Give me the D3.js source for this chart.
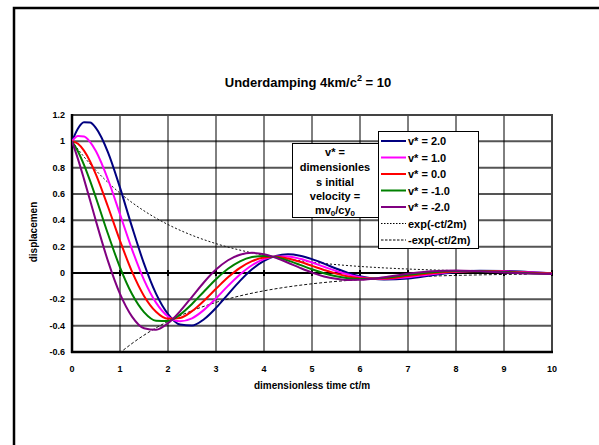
<!DOCTYPE html>
<html lang="en">
  <head>
    <meta charset="UTF-8">
    <title>Underdamping</title>
    <script src="https://d3js.org/d3.v7.min.js"></script>
    <style>
      body { margin: 0; background: white; overflow: hidden; }
      svg { display: block; }
      text { font-family: "Liberation Sans", Arial, sans-serif; font-weight: bold; fill: #000; }
    </style>
  </head>
  <body>
    <script>
      // dimensionless time ct/m
      const tau = [0, 0.125, 0.25, 0.375, 0.5, 0.75, 1, 1.25, 1.5, 1.75, 2, 2.25, 2.5, 2.75, 3, 3.25, 3.5, 3.75,
                   4, 4.25, 4.5, 4.75, 5, 5.25, 5.5, 5.75, 6, 6.5, 7, 7.5, 8, 8.5, 9, 9.5, 10];

      const vPlus2 = [1, 1.098, 1.144, 1.143, 1.101, 0.917, 0.648, 0.350, 0.071, -0.157, -0.312, -0.391, -0.399, -0.351, -0.265, -0.162, -0.060, 0.028,
                      0.092, 0.130, 0.142, 0.131, 0.105, 0.071, 0.034, 0.001, -0.025, -0.049, -0.041, -0.017, 0.006, 0.017, 0.016, 0.008, -0.001];
      const vPlus1 = [1, 1.040, 1.037, 0.996, 0.924, 0.710, 0.446, 0.180, -0.052, -0.225, -0.330, -0.366, -0.344, -0.280, -0.193, -0.098, -0.011, 0.059,
                      0.105, 0.126, 0.126, 0.108, 0.080, 0.047, 0.015, -0.012, -0.032, -0.045, -0.032, -0.009, 0.009, 0.016, 0.013, 0.005, -0.002];
      const vZero  = [1, 0.981, 0.929, 0.849, 0.747, 0.503, 0.245, 0.010, -0.174, -0.294, -0.347, -0.341, -0.290, -0.210, -0.120, -0.033, 0.039, 0.090,
                      0.117, 0.123, 0.110, 0.085, 0.054, 0.023, -0.005, -0.026, -0.039, -0.041, -0.023, -0.002, 0.012, 0.015, 0.010, 0.002, -0.004];
      const vMinus1 = [1, 0.923, 0.821, 0.701, 0.570, 0.296, 0.043, -0.160, -0.297, -0.362, -0.364, -0.316, -0.235, -0.140, -0.047, 0.032, 0.089, 0.121,
                       0.130, 0.119, 0.094, 0.062, 0.028, -0.002, -0.025, -0.039, -0.045, -0.037, -0.014, 0.006, 0.015, 0.014, 0.007, -0.001, -0.005];
      const vMinus2 = [1, 0.865, 0.713, 0.554, 0.393, 0.090, -0.159, -0.331, -0.419, -0.431, -0.382, -0.291, -0.181, -0.070, 0.026, 0.097, 0.139, 0.153,
                       0.143, 0.115, 0.078, 0.039, 0.003, -0.026, -0.044, -0.053, -0.052, -0.033, -0.006, 0.014, 0.019, 0.013, 0.004, -0.004, -0.007];

      // envelope exp(-ct/2m)
      const envTau = [0, 0.25, 0.5, 0.75, 1, 1.25, 1.5, 1.75, 2, 2.5, 3, 3.5, 4, 4.5, 5, 5.5, 6, 6.5, 7, 7.5, 8, 8.5, 9, 9.5];
      const envUpper = [1, 0.8825, 0.7788, 0.6873, 0.6065, 0.5353, 0.4724, 0.4169, 0.3679, 0.2865, 0.2231, 0.1738, 0.1353, 0.1054,
                        0.0821, 0.0639, 0.0498, 0.0388, 0.0302, 0.0235, 0.0183, 0.0143, 0.0111, 0.0087];
      const envLower = envUpper.map(v => -v);

      const seriesNames = ["v* = 2.0", "v* = 1.0", "v* = 0.0", "v* = -1.0", "v* = -2.0"];
      const seriesColors = ["#000080", "#ff00ff", "#ff0000", "#008000", "#800080"];
      const xTicks = [0, 1, 2, 3, 4, 5, 6, 7, 8, 9, 10];
      const yTicks = [-0.6, -0.4, -0.2, 0, 0.2, 0.4, 0.6, 0.8, 1, 1.2];

      const w = 599, h = 445;
      const plotLeft = 72, plotRight = 552, plotTop = 115, plotBottom = 352;

      const svg = d3.select("body").append("svg")
                    .attr("width", w).attr("height", h);

      // outer frame, only top and left edges fall inside the picture
      svg.append("path")
         .attr("d", `M14,${h} V8 H${w}`)
         .attr("fill", "none").attr("stroke", "#000").attr("stroke-width", 2.5);

      const x = d3.scaleLinear().domain([0, 10]).range([plotLeft, plotRight]);
      const y = d3.scaleLinear().domain([-0.6, 1.2]).range([plotBottom, plotTop]);

      // grid
      svg.append("g").selectAll("line")
         .data(yTicks.filter(d => d !== 0 && d > -0.6 && d < 1.2))
         .enter().append("line")
         .attr("x1", plotLeft).attr("x2", plotRight)
         .attr("y1", d => y(d)).attr("y2", d => y(d))
         .attr("stroke", "#555").attr("stroke-width", 2);
      svg.append("g").selectAll("line")
         .data(xTicks.filter(d => d > 0 && d < 10))
         .enter().append("line")
         .attr("x1", d => x(d)).attr("x2", d => x(d))
         .attr("y1", plotTop).attr("y2", plotBottom)
         .attr("stroke", "#000").attr("stroke-width", 1);

      // plot border
      svg.append("rect")
         .attr("x", plotLeft).attr("y", plotTop)
         .attr("width", plotRight - plotLeft).attr("height", plotBottom - plotTop)
         .attr("fill", "none").attr("stroke", "#444").attr("stroke-width", 2);
      svg.append("line").attr("x1", plotLeft).attr("x2", plotLeft).attr("y1", plotTop - 1).attr("y2", plotBottom + 1)
         .attr("stroke", "#000").attr("stroke-width", 2.5);
      svg.append("line").attr("x1", plotLeft - 1).attr("x2", plotRight + 1).attr("y1", plotBottom).attr("y2", plotBottom)
         .attr("stroke", "#000").attr("stroke-width", 2.5);

      // x axis at zero
      svg.append("line").attr("x1", plotLeft).attr("x2", plotRight).attr("y1", y(0)).attr("y2", y(0))
         .attr("stroke", "#000").attr("stroke-width", 2);
      svg.append("g").selectAll("line")
         .data(xTicks)
         .enter().append("line")
         .attr("x1", d => x(d)).attr("x2", d => x(d))
         .attr("y1", y(0) - 3).attr("y2", y(0) + 3)
         .attr("stroke", "#000").attr("stroke-width", 2);

      // tick labels
      svg.append("g").selectAll("text")
         .data(xTicks)
         .enter().append("text")
         .attr("x", d => x(d)).attr("y", 372)
         .attr("text-anchor", "middle")
         .style("font-size", "9px")
         .text(d => d);
      svg.append("g").selectAll("text")
         .data(yTicks)
         .enter().append("text")
         .attr("x", 65).attr("y", d => y(d) + 3)
         .attr("text-anchor", "end")
         .style("font-size", "9px")
         .text(d => d);

      // axis titles
      svg.append("text")
         .attr("x", 312).attr("y", 389)
         .attr("text-anchor", "middle")
         .style("font-size", "10px")
         .text("dimensionless time ct/m");
      svg.append("text")
         .attr("transform", "translate(37,232) rotate(-90)")
         .attr("text-anchor", "middle")
         .style("font-size", "10px")
         .text("displacemen");

      // title
      const title = svg.append("text")
         .attr("x", 308).attr("y", 87)
         .attr("text-anchor", "middle")
         .style("font-size", "13px");
      title.append("tspan").text("Underdamping 4km/c");
      title.append("tspan").attr("dy", -6).style("font-size", "9px").text("2");
      title.append("tspan").attr("dy", 6).text(" = 10");

      // curves
      svg.append("clipPath").attr("id", "clip")
         .append("rect").attr("x", plotLeft).attr("y", plotTop)
         .attr("width", plotRight - plotLeft).attr("height", plotBottom - plotTop);
      const plot = svg.append("g").attr("clip-path", "url(#clip)");

      const line = d3.line().x(d => x(d[0])).y(d => y(d[1])).curve(d3.curveMonotoneX);

      plot.append("path")
          .attr("d", line(d3.zip(envTau, envUpper)))
          .attr("fill", "none").attr("stroke", "#111").attr("stroke-width", 1)
          .attr("stroke-dasharray", "2,2");
      plot.append("path")
          .attr("d", line(d3.zip(envTau, envLower)))
          .attr("fill", "none").attr("stroke", "#111").attr("stroke-width", 1)
          .attr("stroke-dasharray", "3,2");

      const allSeries = [vPlus2, vPlus1, vZero, vMinus1, vMinus2];
      plot.selectAll(".series")
          .data(allSeries)
          .enter().append("path")
          .attr("class", "series")
          .attr("d", vals => line(d3.zip(tau, vals)))
          .attr("fill", "none")
          .attr("stroke", (d, i) => seriesColors[i])
          .attr("stroke-width", 2);

      // text box
      svg.append("rect")
         .attr("x", 292.5).attr("y", 143.5).attr("width", 90).attr("height", 74)
         .attr("fill", "#fff").attr("stroke", "#000").attr("stroke-width", 1);
      const boxLines = ["v* =", "dimensionles", "s initial", "velocity ="];
      svg.append("g").selectAll("text")
         .data(boxLines)
         .enter().append("text")
         .attr("x", 335).attr("y", (d, i) => 156 + i * 14.8)
         .attr("text-anchor", "middle")
         .style("font-size", "11px")
         .text(d => d);
      const last = svg.append("text")
         .attr("x", 335).attr("y", 214)
         .attr("text-anchor", "middle")
         .style("font-size", "11px");
      last.append("tspan").text("mv");
      last.append("tspan").attr("dy", 2).style("font-size", "8px").text("0");
      last.append("tspan").attr("dy", -2).text("/cy");
      last.append("tspan").attr("dy", 2).style("font-size", "8px").text("0");

      // legend
      svg.append("rect")
         .attr("x", 378.5).attr("y", 131.5).attr("width", 100).attr("height", 117)
         .attr("fill", "#fff").attr("stroke", "#000").attr("stroke-width", 1);
      const legendNames = seriesNames.concat(["exp(-ct/2m)", "-exp(-ct/2m)"]);
      const legendColors = seriesColors.concat(["#000", "#000"]);
      const legend = svg.append("g").selectAll("g")
         .data(legendNames)
         .enter().append("g")
         .attr("transform", (d, i) => `translate(0,${141 + i * 16.5})`);
      legend.append("line")
         .attr("x1", 381).attr("x2", 406)
         .attr("stroke", (d, i) => legendColors[i])
         .attr("stroke-width", (d, i) => i < 5 ? 2 : 1)
         .attr("stroke-dasharray", (d, i) => i === 5 ? "1.5,1.5" : (i === 6 ? "2.5,1.5" : null));
      legend.append("text")
         .attr("x", 408).attr("y", 4)
         .style("font-size", "11px")
         .text(d => d);
    </script>
  </body>
</html>
